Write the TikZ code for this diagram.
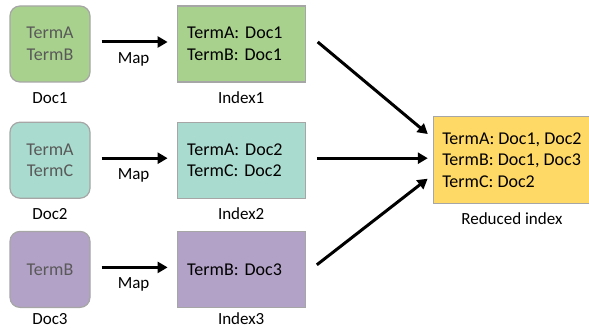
\documentclass[tikz,border=0pt]{standalone}
\usepackage{fontspec}
\setmainfont{Carlito}
\usepackage{tikz}
\usetikzlibrary{arrows.meta,positioning}
\definecolor{mrgreen}{HTML}{A9D18E}
\definecolor{mrteal}{HTML}{A9DBCE}
\definecolor{mrpurple}{HTML}{B3A2C7}
\definecolor{mryellow}{HTML}{FFD966}
\definecolor{mrrule}{HTML}{A6A6A6}
\definecolor{mrmuted}{HTML}{595959}

\begin{document}
\begin{tikzpicture}[
  x=1pt,y=-1pt,
  doc/.style={draw=mrrule,line width=1.2pt,rounded corners=10pt,minimum width=80pt,minimum height=76pt,align=center,text=mrmuted,font=\fontsize{18}{21.5}\selectfont},
  index/.style={draw=mrrule,line width=1.2pt,minimum width=128pt,minimum height=76pt,inner xsep=10pt,text width=108pt,align=left,font=\fontsize{18}{21.5}\selectfont},
  lbl/.style={inner sep=0pt,font=\fontsize{17}{20}\selectfont},
  arrow/.style={-{Triangle[length=10pt,width=11pt]},line width=3pt,color=black}
]
  \useasboundingbox (0,0) rectangle (589,329);
  % map inputs
  \node[doc,fill=mrgreen] (doc1) at (50,44) {TermA\\TermB};
  \node[doc,fill=mrteal,below=39pt of doc1] (doc2) {TermA\\TermC};
  \node[doc,fill=mrpurple,below=32pt of doc2] (doc3) {TermB};
  % partial indexes
  \node[index,fill=mrgreen,right=86pt of doc1] (idx1) {TermA: Doc1\\TermB: Doc1};
  \node[index,fill=mrteal,right=86pt of doc2] (idx2) {TermA: Doc2\\TermC: Doc2};
  \node[index,fill=mrpurple,right=86pt of doc3] (idx3) {TermB: Doc3};
  % reduced index
  \node[draw=mrrule,line width=1.2pt,fill=mryellow,minimum width=157pt,minimum height=87pt,align=left,font=\fontsize{18}{21.5}\selectfont,right=127pt of idx2] (red) {TermA: Doc1, Doc2\\TermB: Doc1, Doc3\\TermC: Doc2};
  % captions
  \node[lbl] (doc1lbl) at ([yshift=-15pt]doc1.south) {Doc1};
  \node[lbl] (doc2lbl) at ([yshift=-15pt]doc2.south) {Doc2};
  \node[lbl] (doc3lbl) at ([yshift=-11pt]doc3.south) {Doc3};
  \node[lbl] (idx1lbl) at ([yshift=-15pt]idx1.south) {Index1};
  \node[lbl] (idx2lbl) at ([yshift=-15pt]idx2.south) {Index2};
  \node[lbl] (idx3lbl) at ([yshift=-11pt]idx3.south) {Index3};
  \node[lbl] (redlbl) at ([yshift=-14pt]red.south) {Reduced index};
  % map arrows
  \draw[arrow,shorten <=11pt,shorten >=9pt] ([yshift=2pt]doc1.east) -- node[lbl,below=9pt] {Map} ([yshift=2pt]idx1.west);
  \draw[arrow,shorten <=11pt,shorten >=9pt] ([yshift=2pt]doc2.east) -- node[lbl,below=9pt] {Map} ([yshift=2pt]idx2.west);
  \draw[arrow,shorten <=11pt,shorten >=9pt] ([yshift=2pt]doc3.east) -- node[lbl,below=9pt] {Map} ([yshift=2pt]idx3.west);
  % reduce arrows
  \draw[arrow,shorten <=15.5pt,shorten >=6.5pt] ([yshift=12pt]idx1.east) -- ([yshift=22pt]red.west);
  \draw[arrow,shorten <=11pt,shorten >=5pt] ([yshift=2pt]idx2.east) -- ([yshift=2pt]red.west);
  \draw[arrow,shorten <=14pt,shorten >=6.5pt] ([yshift=-4pt]idx3.east) -- ([yshift=-14.5pt]red.west);
\end{tikzpicture}
\end{document}
